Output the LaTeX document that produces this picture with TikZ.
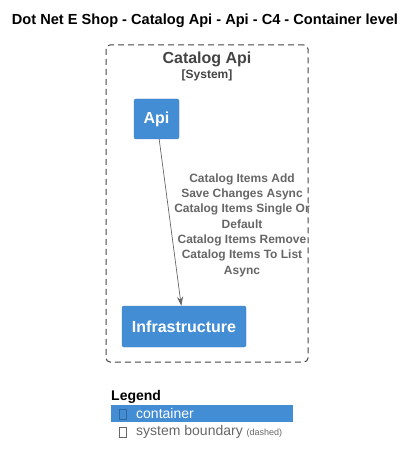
\documentclass[tikz,border=0pt]{standalone}
\usepackage{fontspec}
\setmainfont{Liberation Sans}
\usepackage{xcolor}
\usetikzlibrary{arrows.meta,positioning}

\definecolor{containerblue}{HTML}{438DD5}
\definecolor{containeredge}{HTML}{3C7FC0}
\definecolor{boundarygray}{HTML}{444444}
\definecolor{relgray}{HTML}{666666}

\begin{document}
\begin{tikzpicture}[->, >={Stealth[length=9pt,width=6pt]}, x=1pt, y=-1pt,
                container node/.style={rectangle,rounded corners=2pt,draw=containeredge,
                  fill=containerblue,text=white,font=\fontsize{16}{19}\bfseries,inner sep=0pt},
                boundary node/.style={rectangle,rounded corners=4pt,draw=boundarygray,
                  line width=1pt,dash pattern=on 6pt off 4pt,inner sep=0pt},
                rel label/.style={align=center,text=relgray,
                  font=\fontsize{12}{15.3}\selectfont\bfseries},
                legend box/.style={rectangle,draw,line width=0.6pt,
                  minimum width=7pt,minimum height=10pt,inner sep=0pt}]

  \useasboundingbox (0,0) rectangle (411,465);

  \node (title) at (205,21) {\fontsize{14.6}{17}\bfseries Dot Net E Shop - Catalog Api - Api - C4 - Container level};

  % system boundary
  \node[boundary node, minimum width=202pt, minimum height=317pt] (boundary) at (207,203.5) {};
  \node[text=boundarygray, font=\fontsize{16}{19}\bfseries] (sysname) at (207,59.5) {Catalog Api};
  \node[text=boundarygray, font=\fontsize{12}{14}\bfseries] (systype) at (207,75.5) {[System]};

  \node[container node, minimum width=45pt, minimum height=40pt] (api) at (156.5,119) {Api};
  \node[container node, minimum width=124pt, minimum height=41pt] (infra) at (184,326.5) {Infrastructure};

  \path
    (api) edge [relgray, line width=0.7pt] node {} (infra);

  \node[rel label] (rel) at (242,225) {Catalog Items Add\\Save Changes Async\\Catalog Items Single Or\\Default\\Catalog Items Remove\\Catalog Items To List\\Async};

  % legend
  \node[anchor=west, inner sep=0pt, font=\fontsize{14}{17}\bfseries] (legend) at (111,396.5) {Legend};
  \node[rectangle, fill=containerblue, minimum width=182pt, minimum height=17pt, inner sep=0pt] (legendbar) at (202,413.5) {};
  \node[legend box, draw=containeredge!80!black] (containerbox) at (122.5,414) {};
  \node[anchor=west, inner sep=0pt, text=white, font=\fontsize{14}{17}\selectfont] (containertext) at (136,413) {container};
  \node[legend box, draw=relgray] (boundarybox) at (122.5,432) {};
  \node[anchor=west, inner sep=0pt, text=relgray, font=\fontsize{14}{17}\selectfont] (boundarytext) at (136,431.5) {system boundary {\fontsize{9}{11}\selectfont (dashed)}};
\end{tikzpicture}
\end{document}
